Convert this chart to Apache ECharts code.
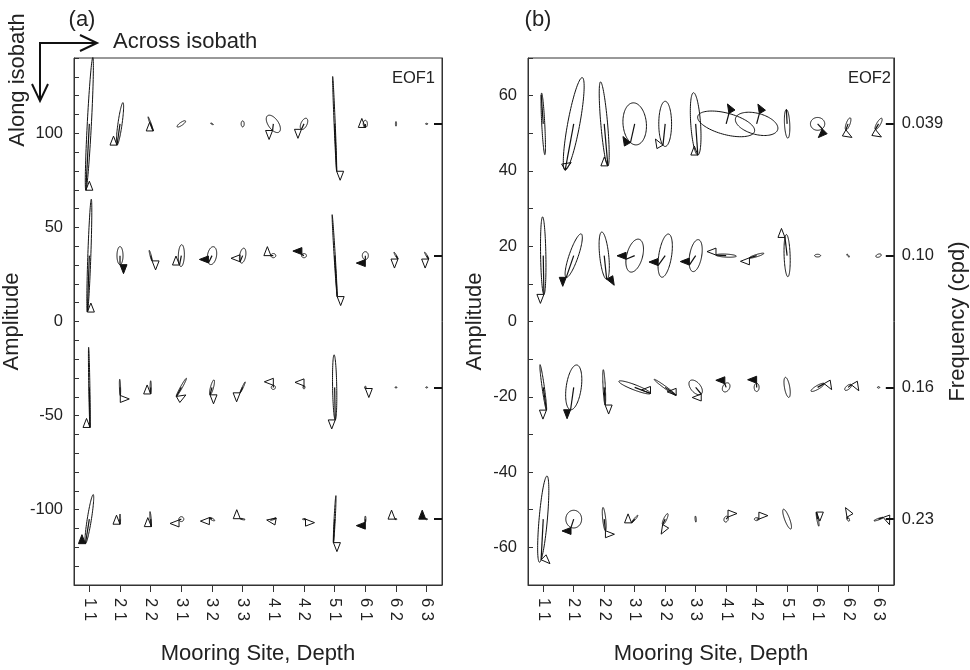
<!DOCTYPE html>
<html><head><meta charset="utf-8">
<script src="https://cdn.jsdelivr.net/npm/echarts@6/dist/echarts.min.js"></script>
<style>html,body{margin:0;padding:0;background:#fff}#c{width:970px;height:670px}</style>
</head><body><div id="c"></div>
<script>
// ---------- data ----------
const categories = ['1 1','2 1','2 2','3 1','3 2','3 3','4 1','4 2','5 1','6 1','6 2','6 3'];
const baselinesA = [105, 35, -35, -105];
const baselinesB = [52.5, 17.5, -17.5, -52.5];
const freqLabels = ['0.039', '0.10', '0.16', '0.23'];
// each glyph: [semiMajor, semiMinor, orientationDeg, phaseDeg|null, arrowDirDeg, arrowSide, filled(1)/open(0)/none(-1)]
const eof1Row1 = [[35.3,1.1,87,180,0,1,0],[11.4,1.1,82,180,180,-1,0],[4,0.3,110,180,180,-1,0],[2.7,0.8,35,null,0,0,-1],[0.8,0.25,-30,null,0,0,-1],[1.6,0.8,90,null,0,0,-1],[5.3,2.7,125,120,180,1,0],[3.2,1.6,65,180,180,1,0],[25.2,0.3,92.4,180,0,-1,0],[1.9,1.1,90,180,180,-1,0],[1.2,0.3,90,null,0,0,-1],[0.6,0.3,0,null,0,0,-1]];
const eof1Row2 = [[30,0.8,88,180,0,1,0],[4.8,1.6,90,180,0,-1,1],[2.9,0.3,105,180,0,-1,0],[5.8,1.6,88,150,180,-1,0],[4.8,2.4,80,150,90,1,1],[4,1.6,80,150,90,1,0],[1.3,1.1,0,180,180,-1,0],[1.3,1.1,0,150,90,1,1],[21.8,0.3,93.5,180,0,-1,0],[2.1,1.6,90,180,-90,-1,1],[2.1,0.3,120,180,180,1,0],[2.1,0.3,120,180,180,1,0]];
const eof1Row3 = [[21.3,0.3,91,180,180,-1,0],[4.3,0.3,92,180,-90,1,0],[3.5,0.3,90,180,180,-1,0],[5.5,0.5,61,180,-60,1,0],[4.1,0.8,75,180,0,-1,0],[3.2,0.3,65,180,180,1,0],[1.1,1.1,90,0,90,1,0],[0.8,0.5,90,0,90,1,0],[17.3,1.1,91,180,180,1,0],[0.6,0.4,90,180,0,-1,0],[0.5,0.3,0,null,0,0,-1],[0.5,0.3,0,null,0,0,-1]];
const eof1Row4 = [[13.2,1.1,81,180,180,-1,1],[2.7,0.3,90,180,180,-1,0],[4,0.3,95,180,180,-1,0],[1.3,1.3,0,200,-90,-1,0],[1.6,0.5,-30,180,-90,-1,0],[1.3,0.3,-10,180,180,-1,0],[1.6,0.3,20,0,-100,-1,0],[0.8,0.3,0,0,-90,1,0],[12.5,0.3,87,180,0,-1,0],[1.6,0.3,90,180,-90,-1,1],[0.5,0.3,0,180,180,-1,0],[0.5,0.3,0,180,180,-1,1]];
const eof2Row1 = [[8.2,0.4,93,20,0,0,-1],[12.5,1.6,79.5,180,120,-1,0],[11.2,0.9,95,180,180,-1,0],[5.6,3.1,95,150,-150,-1,1],[6,1.7,90,160,-150,-1,0],[8.3,1.3,94,180,180,-1,0],[7.8,2.85,-15,90,30,1,1],[5.8,2.8,-15,90,30,1,1],[3.8,0.7,93,0,0,0,-1],[1.9,1.7,0,-50,-45,-1,1],[1.7,0.5,70,180,-120,1,0],[1.7,0.5,60,180,-120,1,0]];
const eof2Row2 = [[10.3,0.7,91,180,180,1,0],[6.1,1.2,71,180,180,1,1],[6.3,1.2,96,180,30,-1,1],[4.5,2.1,75,110,90,1,1],[5.8,1.7,81,120,90,1,1],[4.3,1.6,80,130,90,1,1],[2.7,0.4,-3,180,90,1,0],[2,0.3,17,180,-90,-1,0],[5.6,0.8,92,30,180,-1,0],[0.8,0.35,0,null,0,0,-1],[0.5,0.15,-50,null,0,0,-1],[0.75,0.4,20,null,0,0,-1]];
const eof2Row3 = [[6.1,0.3,98,180,180,1,0],[6,2,82,180,180,1,1],[4.7,0.3,93,180,0,-1,0],[4.5,0.7,-21,0,90,1,0],[3.6,0.3,-36,0,90,1,0],[2.3,1.3,130,180,-90,-1,0],[1.3,0.9,60,60,90,1,1],[1.1,0.65,90,0,90,1,1],[2.7,0.7,100,null,0,0,-1],[2,0.5,30,0,30,-1,0],[1.1,0.5,40,0,30,-1,0],[0.3,0.2,0,null,0,0,-1]];
const eof2Row4 = [[11.5,1.1,85,200,45,-1,0],[2.35,2.1,90,160,-90,-1,1],[3.1,0.4,96,180,-90,1,0],[1.3,0.2,50,180,180,-1,0],[1.6,0.4,65,180,-30,-1,0],[0.8,0.15,95,null,0,0,-1],[0.8,0.55,70,-30,90,-1,0],[0.6,0.4,0,0,90,-1,0],[2.8,0.65,110.7,null,0,0,-1],[1.9,0.2,100,0,0,-1,0],[0.6,0.3,120,0,30,1,0],[1.3,0.2,20,0,20,-1,0]];

const rowsA = [eof1Row1, eof1Row2, eof1Row3, eof1Row4];
const rowsB = [eof2Row1, eof2Row2, eof2Row3, eof2Row4];

function buildList(rows, bases) {
  const out = [];
  rows.forEach((row, r) => row.forEach((g, i) => out.push([i, bases[r]].concat(g))));
  return out;
}
const listA = buildList(rowsA, baselinesA);
const listB = buildList(rowsB, baselinesB);

// ---------- drawing ----------
const INK = '#111', TB = 7, TH = 9;
function glyphRender(list) {
  return function (params, api) {
    const g = list[params.dataIndex];
    const c = api.coord([g[0], g[1]]);
    const k = Math.abs(api.size([0, 1])[1]);
    const a = g[2] * k, b = g[3] * k, th = g[4] * Math.PI / 180;
    const ct = Math.cos(th), st = Math.sin(th);
    const pt = t => {
      const X = a * Math.cos(t) * ct - b * Math.sin(t) * st;
      const Y = a * Math.cos(t) * st + b * Math.sin(t) * ct;
      return [c[0] + X, c[1] - Y];
    };
    const pts = [];
    for (let j = 0; j < 90; j++) pts.push(pt(j / 90 * 2 * Math.PI));
    const children = [{ type: 'polygon', shape: { points: pts }, style: { fill: 'none', stroke: INK, lineWidth: 1 } }];
    if (g[5] !== null) {
      const P = pt(g[5] * Math.PI / 180);
      children.push({ type: 'line', shape: { x1: c[0], y1: c[1], x2: P[0], y2: P[1] }, style: { stroke: INK, lineWidth: 1.2 } });
      if (g[8] >= 0) {
        const td = g[6] * Math.PI / 180, ad = (g[6] + g[7] * 90) * Math.PI / 180;
        const Q = [P[0] + TB * Math.cos(td), P[1] - TB * Math.sin(td)];
        const M = [(P[0] + Q[0]) / 2 + TH * Math.cos(ad), (P[1] + Q[1]) / 2 - TH * Math.sin(ad)];
        children.push({ type: 'polygon', shape: { points: [P, Q, M] }, style: { fill: g[8] ? INK : 'none', stroke: INK, lineWidth: 1, lineJoin: 'miter' } });
      }
    }
    return { type: 'group', children };
  };
}

const FONT = "'Liberation Sans', Arial, Helvetica, sans-serif";
const TXT = '#222', AX = '#333';

function xAxisCfg(gi) {
  return {
    type: 'category', gridIndex: gi, data: categories, boundaryGap: true,
    axisLine: { show: true, onZero: false, lineStyle: { color: AX, width: 1 } },
    axisTick: { show: true, alignWithLabel: true, inside: false, length: 7, lineStyle: { color: AX } },
    axisLabel: { rotate: -90, interval: 0, margin: 13, fontSize: 16.5, fontFamily: FONT, color: TXT },
    splitLine: { show: false },
    name: 'Mooring Site, Depth', nameLocation: 'middle', nameGap: 58,
    nameTextStyle: { fontSize: 22, fontFamily: FONT, color: TXT }
  };
}
function yLeftCfg(gi, min, max, step, nameGap) {
  return {
    type: 'value', gridIndex: gi, position: 'left', min: min, max: max, interval: 10,
    axisLine: { show: true, onZero: false, lineStyle: { color: AX } },
    axisTick: { show: true, inside: true, length: 5, lineStyle: { color: AX } },
    axisLabel: { margin: 11, fontSize: 16.5, fontFamily: FONT, color: TXT,
      formatter: v => (Math.round(v) % step === 0 ? String(Math.round(v)) : '') },
    splitLine: { show: false },
    name: 'Amplitude', nameLocation: 'middle', nameGap: nameGap, nameRotate: 90,
    nameTextStyle: { fontSize: 22, fontFamily: FONT, color: TXT }
  };
}
function yRightCfg(gi, min, max, bases, showLabels) {
  const cfg = {
    type: 'value', gridIndex: gi, position: 'right', min: min, max: max,
    axisLine: { show: true, onZero: false, lineStyle: { color: AX } },
    axisTick: { show: true, inside: true, length: 8, customValues: bases, lineStyle: { color: '#111', width: 2 } },
    axisLabel: { show: showLabels, customValues: bases, margin: 8, fontSize: 16.5, fontFamily: FONT, color: TXT,
      formatter: v => { const i = bases.indexOf(v); return i >= 0 ? freqLabels[i] : ''; } },
    splitLine: { show: false }
  };
  if (showLabels) {
    cfg.name = 'Frequency (cpd)'; cfg.nameLocation = 'middle'; cfg.nameGap = 51; cfg.nameRotate = 90;
    cfg.nameTextStyle = { fontSize: 22, fontFamily: FONT, color: TXT };
  }
  return cfg;
}

const chart = echarts.init(document.getElementById('c'), null, { renderer: 'canvas' });
chart.setOption({
  backgroundColor: '#fff',
  animation: false,
  textStyle: { fontFamily: FONT },
  grid: [
    { left: 73, top: 58, width: 369, height: 527, show: true, borderColor: AX, borderWidth: 1, backgroundColor: 'transparent' },
    { left: 528, top: 58, width: 369, height: 527, show: true, borderColor: AX, borderWidth: 1, backgroundColor: 'transparent' }
  ],
  xAxis: [xAxisCfg(0), xAxisCfg(1)],
  yAxis: [
    yLeftCfg(0, -140, 140, 50, 51),
    yLeftCfg(1, -70, 70, 20, 42),
    yRightCfg(0, -140, 140, baselinesA, false),
    yRightCfg(1, -70, 70, baselinesB, true)
  ],
  series: [
    { type: 'custom', coordinateSystem: 'cartesian2d', xAxisIndex: 0, yAxisIndex: 0, clip: false,
      encode: { x: 0, y: 1 }, data: listA.map(g => [g[0], g[1]]), renderItem: glyphRender(listA), silent: true },
    { type: 'custom', coordinateSystem: 'cartesian2d', xAxisIndex: 1, yAxisIndex: 1, clip: false,
      encode: { x: 0, y: 1 }, data: listB.map(g => [g[0], g[1]]), renderItem: glyphRender(listB), silent: true }
  ],
  graphic: [
    { type: 'text', x: 82, y: 20, style: { text: '(a)', font: '22px ' + FONT, fill: TXT, textAlign: 'center', textVerticalAlign: 'middle' } },
    { type: 'text', x: 538, y: 20, style: { text: '(b)', font: '22px ' + FONT, fill: TXT, textAlign: 'center', textVerticalAlign: 'middle' } },
    { type: 'text', x: 113, y: 42, style: { text: 'Across isobath', font: '22px ' + FONT, fill: TXT, textAlign: 'left', textVerticalAlign: 'middle' } },
    { type: 'text', x: 17.5, y: 80, rotation: Math.PI / 2, style: { text: 'Along isobath', font: '22px ' + FONT, fill: TXT, textAlign: 'center', textVerticalAlign: 'middle' } },
    { type: 'text', x: 435, y: 78, style: { text: 'EOF1', font: '16.5px ' + FONT, fill: TXT, textAlign: 'right', textVerticalAlign: 'middle' } },
    { type: 'text', x: 891, y: 78, style: { text: 'EOF2', font: '16.5px ' + FONT, fill: TXT, textAlign: 'right', textVerticalAlign: 'middle' } },
    { type: 'polyline', shape: { points: [[40, 101], [40, 43], [97, 43]] }, style: { stroke: '#111', lineWidth: 2, fill: 'none' } },
    { type: 'polyline', shape: { points: [[80, 35], [97, 43], [80, 51]] }, style: { stroke: '#111', lineWidth: 2, fill: 'none' } },
    { type: 'polyline', shape: { points: [[32, 84], [40, 101], [48, 84]] }, style: { stroke: '#111', lineWidth: 2, fill: 'none' } }
  ]
});
</script>
</body></html>
